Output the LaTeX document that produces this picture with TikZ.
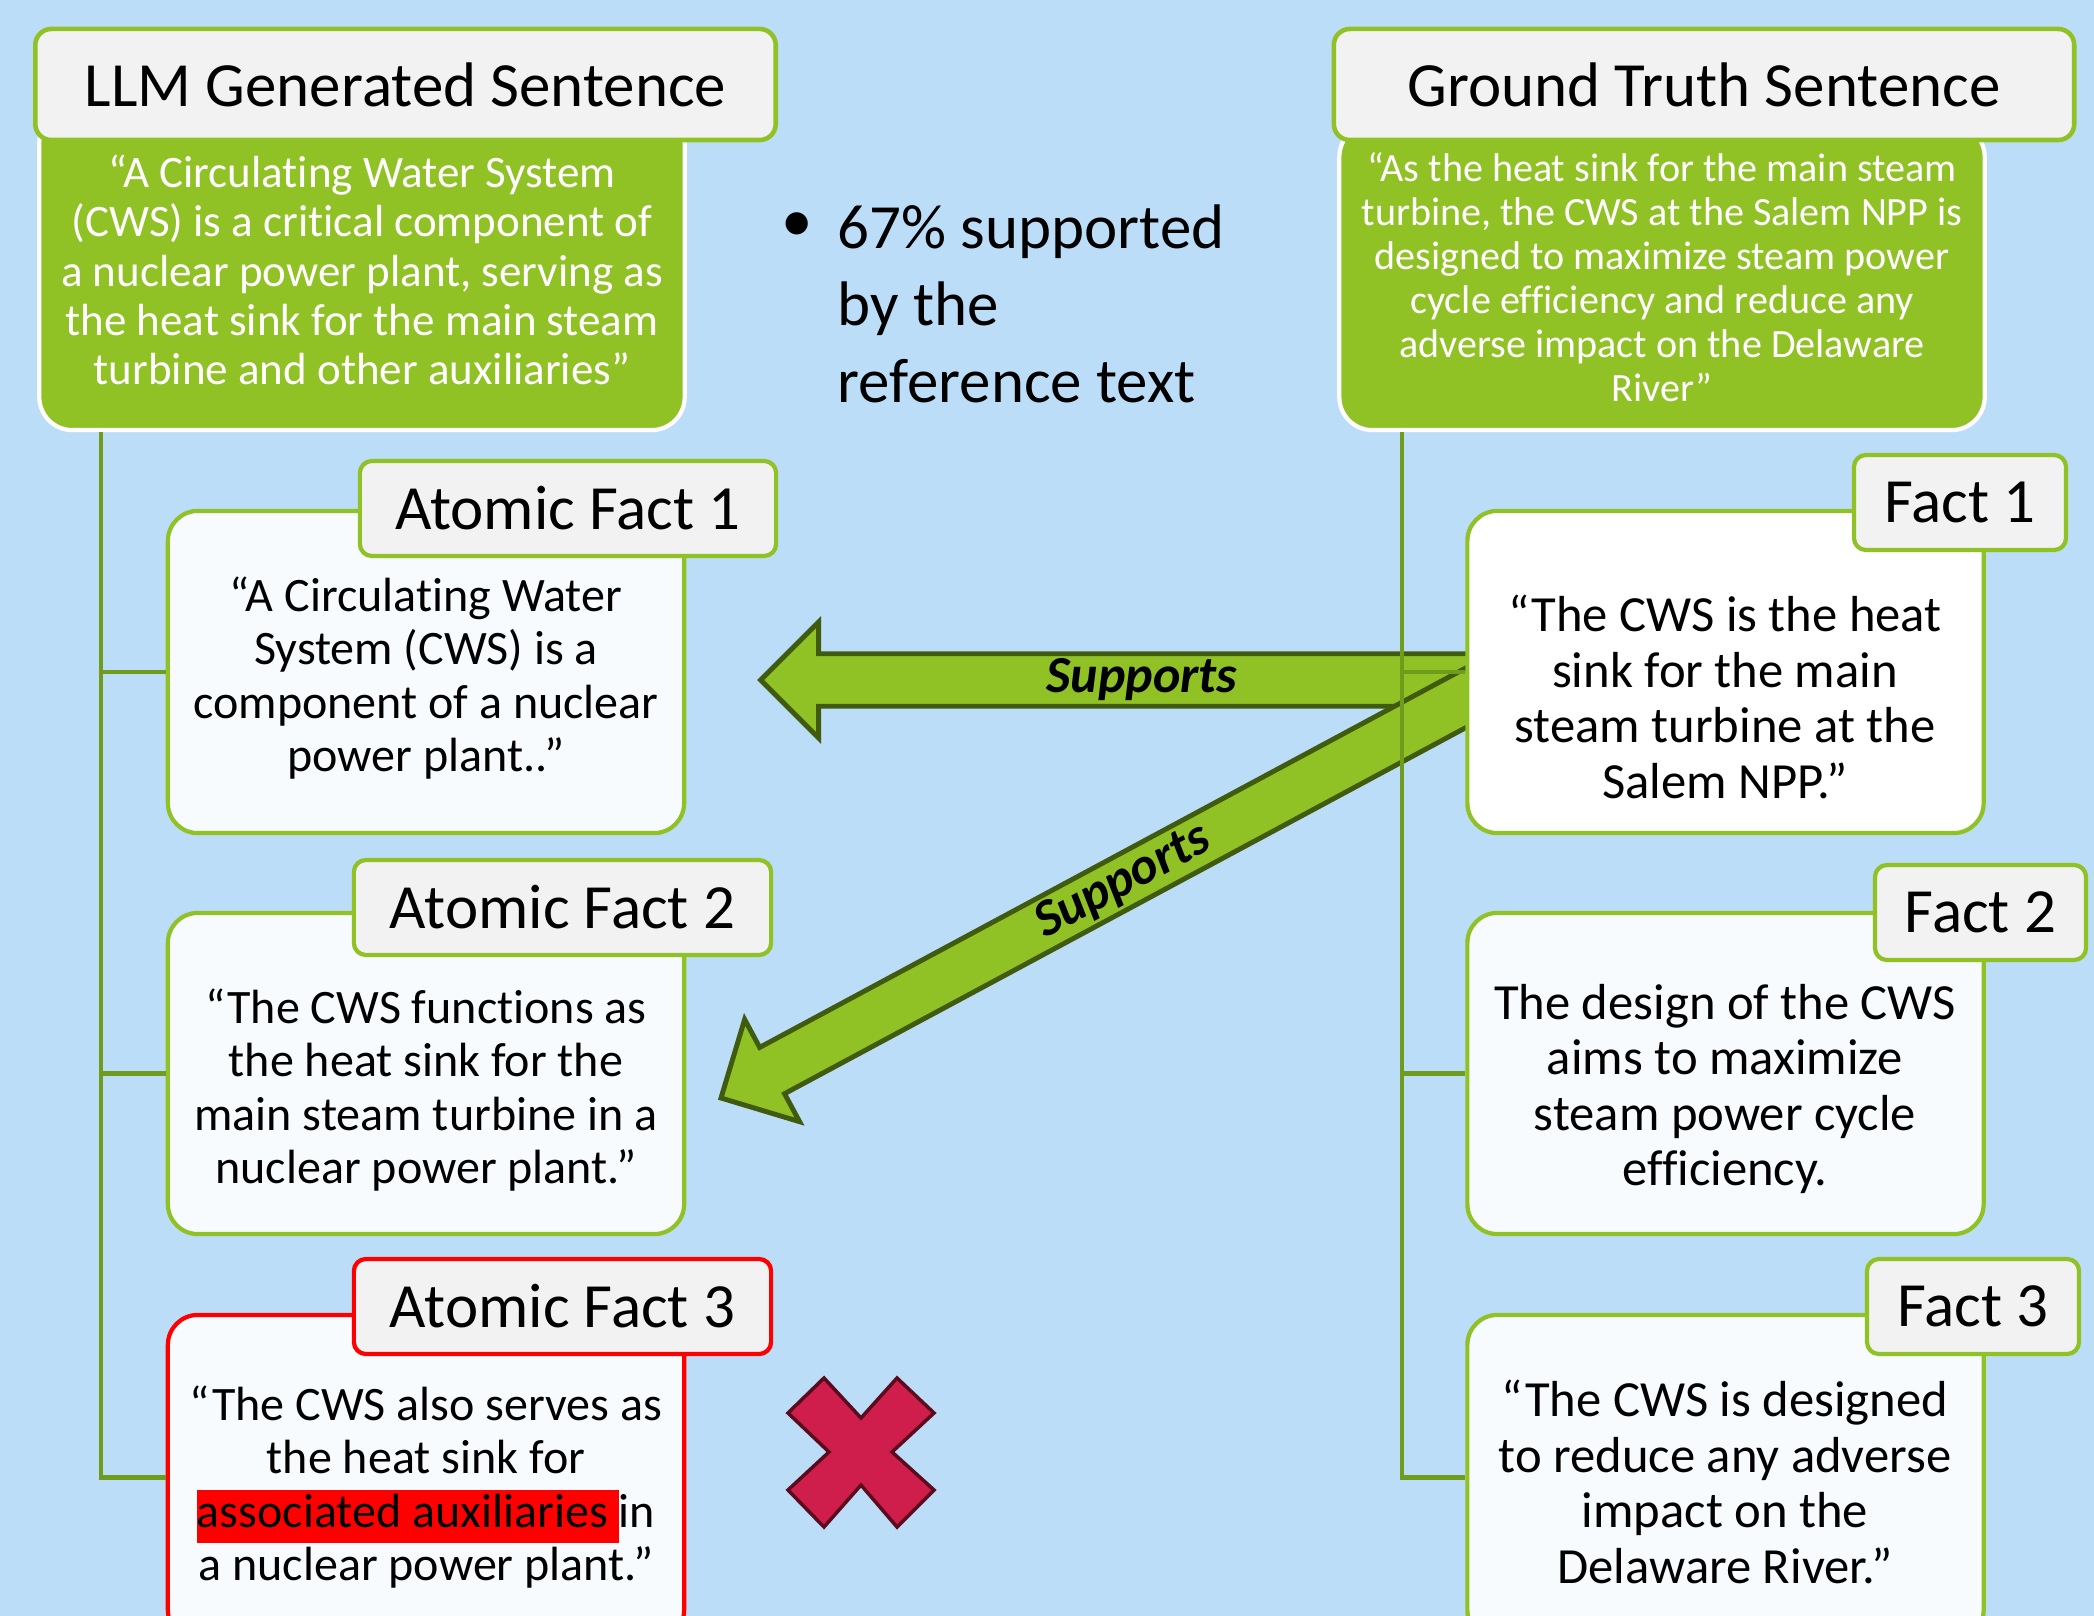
\documentclass[tikz,border=0pt]{standalone}
\usepackage{fontspec}
\setmainfont{Carlito}[Ligatures={TeX,NoCommon}]
\usetikzlibrary{shapes.arrows}
\definecolor{skyback}{RGB}{188,221,248}
\definecolor{leafgreen}{RGB}{144,194,38}
\definecolor{stemgreen}{RGB}{112,156,30}
\definecolor{arrowedge}{RGB}{64,90,14}
\definecolor{paper}{RGB}{247,251,254}
\definecolor{tabgray}{RGB}{242,242,242}
\definecolor{crossred}{RGB}{208,30,76}
\definecolor{crossedge}{RGB}{92,10,30}

\begin{document}
\begin{tikzpicture}[x=0.01cm,y=-0.01cm]
	\tikzstyle{every node}+=[inner sep=0pt]
	\tikzstyle{headbox}=[draw=leafgreen,line width=1.3pt,fill=tabgray,rounded corners=0.16cm,minimum width=7.4cm,minimum height=1.11cm,font=\fontsize{17.9}{21}\selectfont]
	\tikzstyle{sentbox}=[draw=white,line width=1.2pt,fill=leafgreen,rounded corners=0.33cm,minimum width=6.45cm,text=white,align=center]
	\tikzstyle{factbox}=[draw=leafgreen,line width=1.2pt,fill=paper,rounded corners=0.3cm,minimum width=5.16cm]
	\tikzstyle{facttab}=[draw=leafgreen,line width=1.2pt,fill=tabgray,rounded corners=0.12cm,minimum height=0.95cm,font=\fontsize{17.9}{21}\selectfont]
	\tikzstyle{afttext}=[align=center,font=\fontsize{13.66}{15.1}\selectfont]
	\tikzstyle{gttext}=[align=center,font=\fontsize{14.4}{15.8}\selectfont]
	\tikzstyle{stem}=[draw=stemgreen,line width=1.2pt]
	\tikzstyle{supportarrow}=[single arrow,draw=arrowedge,line width=1.4pt,fill=leafgreen,minimum width=1.16cm,single arrow head extend=0.285cm,shape border rotate=180,font=\fontsize{14.8}{17}\selectfont\bfseries\itshape]

	\useasboundingbox (0,0) rectangle (2094,1616);
	\fill[skyback] (0,0) rectangle (2094,1616);

	\node[supportarrow,minimum height=7.36cm] (sup1) at (1142,680) {Supports};
	\node[supportarrow,minimum height=8.86cm,rotate=28.25] (sup2) at (1123,882) {Supports};

	\node[sentbox,minimum height=3.2cm,font=\fontsize{12.8}{14.06}\selectfont] (llm) at (362,270) {“A Circulating Water System\\(CWS) is a critical component of\\a nuclear power plant, serving as\\the heat sink for the main steam\\turbine and other auxiliaries”};
	\node[headbox] (llmhead) at (405.5,84.5) {LLM Generated Sentence};
	\node[sentbox,minimum height=3.06cm,font=\fontsize{11.4}{12.5}\selectfont] (gt) at (1662,277) {“As the heat sink for the main steam\\turbine, the CWS at the Salem NPP is\\designed to maximize steam power\\cycle efficiency and reduce any\\adverse impact on the Delaware\\River”};
	\node[headbox] (gthead) at (1704,84.5) {Ground Truth Sentence};

	\node[factbox,minimum height=3.22cm] (af1) at (426,672) {};
	\node[facttab,minimum width=4.16cm] (af1tab) at (568,508.5) {Atomic Fact 1};
	\node[afttext] (af1txt) at (426,678) {“A Circulating Water\\System (CWS) is a\\component of a nuclear\\power plant..”};
	\node[factbox,minimum height=3.21cm] (af2) at (426,1073.5) {};
	\node[facttab,minimum width=4.17cm] (af2tab) at (562.5,907.5) {Atomic Fact 2};
	\node[afttext] (af2txt) at (426,1090) {“The CWS functions as\\the heat sink for the\\main steam turbine in a\\nuclear power plant.”};
	\node[factbox,draw=red,minimum height=3.25cm] (af3) at (426,1477.5) {};
	\node[facttab,draw=red,minimum width=4.17cm] (af3tab) at (562.5,1306.5) {Atomic Fact 3};
	\node[afttext] (af3txt) at (426,1487) {“The CWS also serves as\\the heat sink for\\{\setlength\fboxsep{0pt}\colorbox{red}{\strut associated auxiliaries\ }}in\\a nuclear power plant.”};

	\node[factbox,fill=white,minimum height=3.22cm] (f1) at (1725.5,672) {};
	\node[facttab,minimum width=2.12cm] (f1tab) at (1960,502.5) {Fact 1};
	\node[gttext] (f1txt) at (1725,697) {“The CWS is the heat\\sink for the main\\steam turbine at the\\Salem NPP.”};
	\node[factbox,minimum height=3.21cm] (f2) at (1725.5,1073.5) {};
	\node[facttab,minimum width=2.11cm] (f2tab) at (1980.5,912.5) {Fact 2};
	\node[gttext] (f2txt) at (1725,1089) {The design of the CWS\\aims to maximize\\steam power cycle\\efficiency.};
	\node[factbox,minimum height=3.25cm] (f3) at (1725.5,1477.5) {};
	\node[facttab,minimum width=2.12cm] (f3tab) at (1973,1306.5) {Fact 3};
	\node[gttext] (f3txt) at (1725,1482) {“The CWS is designed\\to reduce any adverse\\impact on the\\Delaware River.”};

	\coordinate (ltrunk) at ([xshift=0.64cm]llm.south west);
	\coordinate (rtrunk) at ([xshift=0.65cm]gt.south west);
	\draw[stem] (ltrunk) |- (af1.west);
	\draw[stem] (ltrunk) |- (af2.west);
	\draw[stem] (ltrunk) |- (af3.west);
	\draw[stem] (rtrunk) |- (f1.west);
	\draw[stem] (rtrunk) |- (f2.west);
	\draw[stem] (rtrunk) |- (f3.west);

	\node[font=\fontsize{17.9}{21.9}\selectfont] (dot) at (797,227) {\textbullet};
	\node[anchor=west,align=left,font=\fontsize{17.9}{21.9}\selectfont] (stat) at (837,304) {67\% supported\\by the\\reference text};

	\draw[fill=crossred,draw=crossedge,line width=1pt,line join=miter] (824,1378) -- (861,1418) -- (897,1378) -- (934,1413) -- (892,1452) -- (934,1490) -- (897,1527) -- (861,1485) -- (824,1527) -- (788,1490) -- (829,1452) -- (788,1413) -- cycle;
\end{tikzpicture}
\end{document}
